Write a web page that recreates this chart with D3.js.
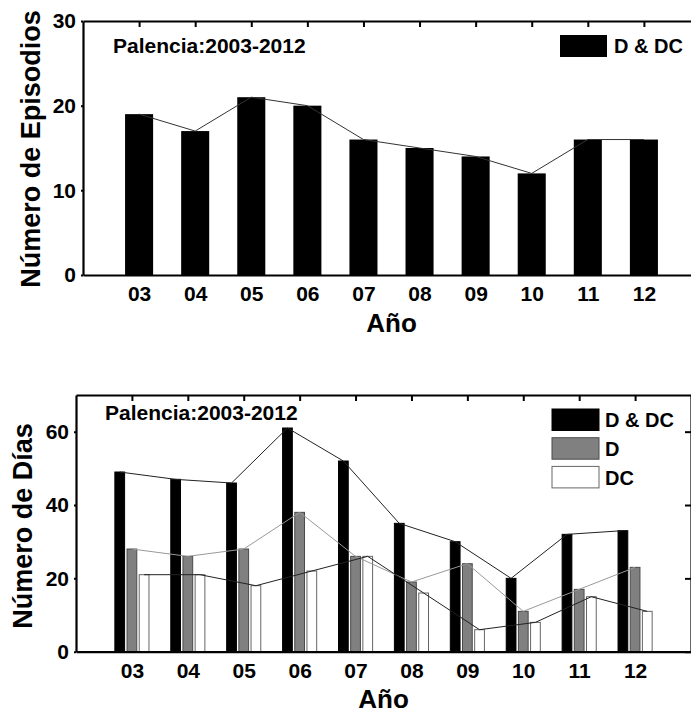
<!DOCTYPE html>
<html>
<head>
<meta charset="utf-8">
<script src="https://cdn.jsdelivr.net/npm/d3@7"></script>
<style>
  body { margin: 0; background: #fff; }
  text { font-family: "Liberation Sans", Arial, Helvetica, sans-serif; font-weight: bold; fill: #000; }
</style>
</head>
<body>
<div id="chart"></div>
<script>
// data
const years = ['03', '04', '05', '06', '07', '08', '09', '10', '11', '12']
const episodios = [19, 17, 21, 20, 16, 15, 14, 12, 16, 16]
const diasTotal = [49, 47, 46, 61, 52, 35, 30, 20, 32, 33]
const diasD = [28, 26, 28, 38, 26, 19, 24, 11, 17, 23]
const diasDC = [21, 21, 18, 22, 26, 16, 6, 8, 15, 11]
const seriesNames = ['D & DC', 'D', 'DC']
const titleText = 'Palencia:2003-2012'

const W = 691
const H = 713

const svg = d3.select('#chart').append('svg')
  .attr('width', W)
  .attr('height', H)

svg.append('rect').attr('width', W).attr('height', H).attr('fill', '#fff')

const idx = years.map((d, i) => i + 3)

function frame (g, x, y, yTicks) {
  const [x0, x1] = x.range()
  const [y0, y1] = y.range()

  // left axis with tick labels
  g.append('g')
    .attr('transform', `translate(${x0},0)`)
    .call(d3.axisLeft(y).tickValues(yTicks).tickSizeInner(2).tickSizeOuter(0).tickPadding(5))
    .call(a => a.selectAll('text').attr('font-size', 21))

  // bottom axis: year labels, no ticks
  g.append('g')
    .attr('transform', `translate(0,${y0})`)
    .call(d3.axisBottom(x).tickValues(idx).tickFormat((d, i) => years[i]).tickSize(0).tickPadding(11))
    .call(a => a.selectAll('text').attr('font-size', 21))

  // top axis: inward ticks
  g.append('g')
    .attr('transform', `translate(0,${y1})`)
    .call(d3.axisTop(x).tickValues(idx).tickFormat('').tickSizeInner(-6).tickSizeOuter(0))

  // right axis: inward ticks
  g.append('g')
    .attr('transform', `translate(${x1},0)`)
    .call(d3.axisRight(y).tickValues(yTicks).tickFormat('').tickSizeInner(-6).tickSizeOuter(0))

  g.selectAll('.domain').attr('stroke', '#000').attr('stroke-width', 2.2)
  g.selectAll('.tick line').attr('stroke', '#000').attr('stroke-width', 2)
}

// ---------- top chart: episodios ----------
{
  const x = d3.scaleLinear().domain([2, 13]).range([83, 700])
  const y = d3.scaleLinear().domain([0, 30]).range([275, 21])
  const g = svg.append('g')
  const bw = (x(4) - x(3)) * 0.5

  g.selectAll('.bar')
    .data(episodios)
    .enter().append('rect')
    .attr('class', 'bar')
    .attr('x', (d, i) => x(idx[i]) - bw / 2)
    .attr('y', d => y(d))
    .attr('width', bw)
    .attr('height', d => y(0) - y(d))
    .attr('fill', '#000')

  g.append('path')
    .datum(episodios)
    .attr('fill', 'none')
    .attr('stroke', '#333')
    .attr('stroke-width', 1)
    .attr('d', d3.line().x((d, i) => x(idx[i])).y(d => y(d)))

  frame(g, x, y, [0, 10, 20, 30])

  g.append('text').attr('x', 113).attr('y', 53).attr('font-size', 21).text(titleText)

  g.append('rect').attr('x', 560).attr('y', 35).attr('width', 47).attr('height', 22).attr('fill', '#000')
  g.append('text').attr('x', 614).attr('y', 53).attr('font-size', 20).text(seriesNames[0])

  g.append('text')
    .attr('transform', `translate(40,149) rotate(-90)`)
    .attr('text-anchor', 'middle')
    .attr('font-size', 27)
    .text('Número de Episodios')

  g.append('text')
    .attr('x', (x.range()[0] + x.range()[1]) / 2)
    .attr('y', 332)
    .attr('text-anchor', 'middle')
    .attr('font-size', 26)
    .text('Año')
}

// ---------- bottom chart: días ----------
{
  const x = d3.scaleLinear().domain([2, 13]).range([76, 691])
  const y = d3.scaleLinear().domain([0, 70]).range([651.7, 395])
  const g = svg.append('g')

  const groupW = (x(4) - x(3)) * 0.61
  const sub = d3.scaleBand().domain(seriesNames).range([-groupW / 2, groupW / 2]).paddingInner(0.2)

  const series = [
    { name: 'D & DC', values: diasTotal, fill: '#000', stroke: '#000', line: '#222' },
    { name: 'D', values: diasD, fill: '#808080', stroke: '#4a4a4a', line: '#999' },
    { name: 'DC', values: diasDC, fill: '#fff', stroke: '#666', line: '#222' }
  ]

  series.forEach(s => {
    g.selectAll(null)
      .data(s.values)
      .enter().append('rect')
      .attr('x', (d, i) => x(idx[i]) + sub(s.name))
      .attr('y', d => y(d))
      .attr('width', sub.bandwidth())
      .attr('height', d => y(0) - y(d))
      .attr('fill', s.fill)
      .attr('stroke', s.stroke)
      .attr('stroke-width', 1)
  })

  series.forEach(s => {
    g.append('path')
      .datum(s.values)
      .attr('fill', 'none')
      .attr('stroke', s.line)
      .attr('stroke-width', 1)
      .attr('d', d3.line().x((d, i) => x(idx[i]) + sub(s.name) + sub.bandwidth() / 2).y(d => y(d)))
  })

  frame(g, x, y, [0, 20, 40, 60])

  g.append('text').attr('x', 105).attr('y', 420).attr('font-size', 21).text(titleText)

  const leg = g.append('g')
  series.forEach((s, i) => {
    leg.append('rect')
      .attr('x', 552).attr('y', 409 + i * 28.7)
      .attr('width', 47).attr('height', 21.5)
      .attr('fill', s.fill).attr('stroke', s.stroke).attr('stroke-width', 1)
    leg.append('text')
      .attr('x', 605).attr('y', 427 + i * 29)
      .attr('font-size', 20)
      .text(s.name)
  })

  g.append('text')
    .attr('transform', `translate(32,526) rotate(-90)`)
    .attr('text-anchor', 'middle')
    .attr('font-size', 27)
    .text('Número de Días')

  g.append('text')
    .attr('x', (x.range()[0] + x.range()[1]) / 2)
    .attr('y', 708)
    .attr('text-anchor', 'middle')
    .attr('font-size', 26)
    .text('Año')
}
</script>
</body>
</html>
